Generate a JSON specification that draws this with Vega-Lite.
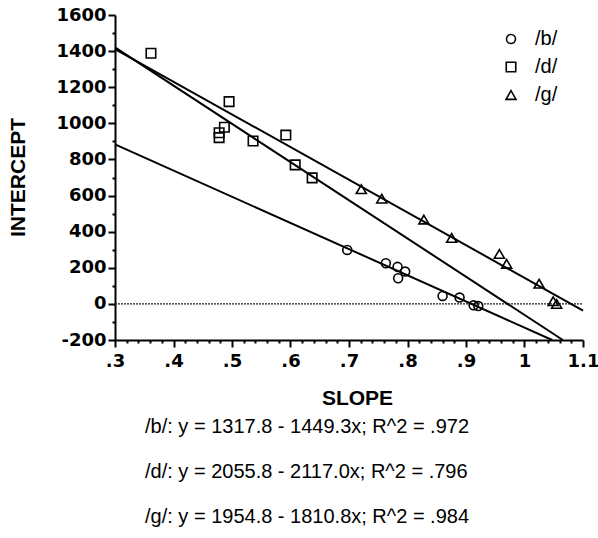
{
  "$schema": "https://vega.github.io/schema/vega-lite/v6.json",
  "width": 468,
  "height": 325,
  "autosize": {"type": "none"},
  "padding": {"left": 115, "top": 15, "right": 15, "bottom": 198},
  "background": "white",
  "config": {
    "view": {"stroke": null},
    "axis": {
      "grid": false,
      "ticks": true,
      "domainColor": "black",
      "domainWidth": 2,
      "tickColor": "black",
      "tickOpacity": 1,
      "tickWidth": 2,
      "tickSize": 7,
      "labelFont": "DejaVu Sans",
      "labelFontWeight": "bold",
      "labelFontSize": 18,
      "labelColor": "black",
      "labelOverlap": false,
      "labelFlush": false,
      "titleFont": "Liberation Sans",
      "titleFontWeight": "bold",
      "titleFontSize": 21,
      "titleColor": "black"
    },
    "axisX": {"ticks": true, "tickSize": 7, "tickOpacity": 1, "tickColor": "black", "tickWidth": 2},
    "axisY": {"ticks": true, "tickSize": 7, "tickOpacity": 1, "tickColor": "black", "tickWidth": 2},
    "legend": {
      "labelFont": "Liberation Sans",
      "labelFontSize": 20,
      "labelColor": "black"
    }
  },
  "title": {
    "text": [
      "/b/: y = 1317.8 - 1449.3x; R^2 = .972",
      "/d/: y = 2055.8 - 2117.0x; R^2 = .796",
      "/g/: y = 1954.8 - 1810.8x; R^2 = .984"
    ],
    "orient": "bottom",
    "anchor": "start",
    "frame": "group",
    "align": "left",
    "dx": 30,
    "offset": 9,
    "font": "Liberation Sans",
    "fontSize": 20,
    "fontWeight": "normal",
    "color": "black",
    "lineHeight": 45
  },
  "datasets": {
    "tokens": [
      {"series": "/b/", "slope": 0.697, "intercept": 299},
      {"series": "/b/", "slope": 0.763, "intercept": 225},
      {"series": "/b/", "slope": 0.783, "intercept": 205},
      {"series": "/b/", "slope": 0.796, "intercept": 179},
      {"series": "/b/", "slope": 0.784, "intercept": 142},
      {"series": "/b/", "slope": 0.86, "intercept": 44},
      {"series": "/b/", "slope": 0.889, "intercept": 35},
      {"series": "/b/", "slope": 0.913, "intercept": -8},
      {"series": "/b/", "slope": 0.921, "intercept": -12},
      {"series": "/d/", "slope": 0.3615, "intercept": 1388},
      {"series": "/d/", "slope": 0.495, "intercept": 1120},
      {"series": "/d/", "slope": 0.487, "intercept": 978},
      {"series": "/d/", "slope": 0.478, "intercept": 948},
      {"series": "/d/", "slope": 0.478, "intercept": 921},
      {"series": "/d/", "slope": 0.536, "intercept": 902},
      {"series": "/d/", "slope": 0.592, "intercept": 935},
      {"series": "/d/", "slope": 0.608, "intercept": 770},
      {"series": "/d/", "slope": 0.637, "intercept": 698},
      {"series": "/g/", "slope": 0.721, "intercept": 635},
      {"series": "/g/", "slope": 0.756, "intercept": 583},
      {"series": "/g/", "slope": 0.828, "intercept": 467},
      {"series": "/g/", "slope": 0.8755, "intercept": 365},
      {"series": "/g/", "slope": 0.957, "intercept": 277},
      {"series": "/g/", "slope": 0.9695, "intercept": 222},
      {"series": "/g/", "slope": 1.025, "intercept": 112},
      {"series": "/g/", "slope": 1.049, "intercept": 15},
      {"series": "/g/", "slope": 1.055, "intercept": 0}
    ],
    "fits": [
      {"fit": "/b/", "slope": 0.3, "intercept": 883.01},
      {"fit": "/b/", "slope": 1.04726, "intercept": -200},
      {"fit": "/d/", "slope": 0.3, "intercept": 1420.7},
      {"fit": "/d/", "slope": 1.06557, "intercept": -200},
      {"fit": "/g/", "slope": 0.3, "intercept": 1411.56},
      {"fit": "/g/", "slope": 1.1, "intercept": -37.08}
    ],
    "zeroLine": [
      {"slope": 0.3, "intercept": 0},
      {"slope": 1.1, "intercept": 0}
    ]
  },
  "encoding": {
    "x": {
      "field": "slope",
      "type": "quantitative",
      "scale": {"domain": [0.3, 1.1], "nice": false, "zero": false},
      "axis": {
        "title": "SLOPE",
        "values": [0.3, 0.32, 0.34, 0.36, 0.38, 0.4, 0.42, 0.44, 0.46, 0.48, 0.5, 0.52, 0.54, 0.56, 0.58, 0.6, 0.62, 0.64, 0.66, 0.68, 0.7, 0.72, 0.74, 0.76, 0.78, 0.8, 0.82, 0.84, 0.86, 0.88, 0.9, 0.92, 0.94, 0.96, 0.98, 1.0, 1.02, 1.04, 1.06, 1.08, 1.1],
        "labelExpr": "abs(datum.value * 10 - round(datum.value * 10)) < 0.001 ? (datum.value < 0.999 ? '.' + round(datum.value * 10) : toString(round(datum.value * 10) / 10)) : ''",
        "ticks": true,
        "tickSize": 7,
        "tickOpacity": 1,
        "tickColor": "black",
        "tickWidth": 2,
        "tickDash": {"condition": {"test": "abs(datum.value * 10 - round(datum.value * 10)) < 0.001", "value": [8, 0]}, "value": [3, 20]},
        "labelOverlap": false,
        "labelPadding": 5,
        "titleX": 242,
        "titleY": 58,
        "titleBaseline": "middle"
      }
    },
    "y": {
      "field": "intercept",
      "type": "quantitative",
      "scale": {"domain": [-200, 1600], "nice": false, "zero": false},
      "axis": {
        "title": "INTERCEPT",
        "values": [-200, -100, 0, 100, 200, 300, 400, 500, 600, 700, 800, 900, 1000, 1100, 1200, 1300, 1400, 1500, 1600],
        "labelExpr": "datum.value % 200 == 0 ? toString(datum.value) : ''",
        "ticks": true,
        "tickSize": 7,
        "tickOpacity": 1,
        "tickColor": "black",
        "tickWidth": 2,
        "tickDash": {"condition": {"test": "datum.value % 200 == 0", "value": [8, 0]}, "value": [3, 20]},
        "labelOverlap": false,
        "labelPadding": 2,
        "titleX": -97,
        "titleY": 162,
        "titleBaseline": "middle"
      }
    }
  },
  "layer": [
    {
      "data": {"name": "zeroLine"},
      "mark": {"type": "line", "color": "#222222", "strokeWidth": 1.2, "strokeDash": [2, 1]}
    },
    {
      "data": {"name": "fits"},
      "mark": {"type": "line", "color": "black", "strokeWidth": 2},
      "encoding": {
        "detail": {"field": "fit"}
      }
    },
    {
      "data": {"name": "tokens"},
      "mark": {"type": "point", "filled": false, "stroke": "black", "strokeWidth": 1.6, "opacity": 1},
      "encoding": {
        "shape": {
          "field": "series",
          "type": "nominal",
          "scale": {"domain": ["/b/", "/d/", "/g/"], "range": ["circle", "square", "triangle-up"]},
          "legend": {
            "title": null,
            "orient": "none",
            "legendX": 386,
            "legendY": 14,
            "padding": 0,
            "rowPadding": 8,
            "labelOffset": 14,
            "symbolStrokeColor": "black",
            "symbolStrokeWidth": 1.6,
            "symbolFillColor": "transparent"
          }
        },
        "size": {
          "field": "series",
          "type": "nominal",
          "scale": {"domain": ["/b/", "/d/", "/g/"], "range": [80, 100, 130]}
        }
      }
    }
  ]
}
